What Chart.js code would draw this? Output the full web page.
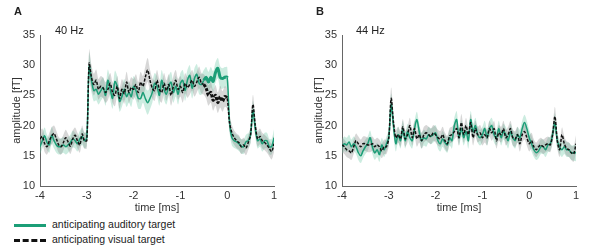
<!DOCTYPE html>
<html lang="en">
<head>
    <meta charset="UTF-8">
    <title>40 Hz / 44 Hz amplitude</title>
    <script src="https://cdn.jsdelivr.net/npm/chart.js"></script>
    <style>
        body { margin: 0; background: #fff; font-family: 'Liberation Sans', Arial, sans-serif; }
        #wrap { position: relative; width: 605px; height: 249px; }
        .panel { position: absolute; top: 0; width: 300px; height: 215px; }
        .tag { position: absolute; font-weight: bold; font-size: 11px; color: #222; }
        .freq { position: absolute; font-size: 11px; color: #222; }
        .leg { position: absolute; left: 14px; font-size: 10.5px; color: #222; }
        .leg span { display: inline-block; width: 32px; vertical-align: middle; margin-right: 6px; }
    </style>
</head>
<body>
<div id="wrap">
    <div class="panel" style="left:0"><canvas id="chartA"></canvas></div>
    <div class="panel" style="left:302px"><canvas id="chartB"></canvas></div>
    <div class="tag" style="left:14px; top:5px">A</div>
    <div class="tag" style="left:316px; top:5px">B</div>
    <div class="freq" style="left:55px; top:24px">40 Hz</div>
    <div class="freq" style="left:356px; top:24px">44 Hz</div>
    <div class="leg" style="top:218px"><span style="border-top:3px solid #1b9e77"></span>anticipating auditory target</div>
    <div class="leg" style="top:233px"><span style="border-top:3px dashed #111"></span>anticipating visual target</div>
</div>

<script>
    // sample times, -4 .. 1 in steps of 0.05
    const times = [];
    for (let i = 0; i <= 100; i++) times.push(+(-4 + i * 0.05).toFixed(2));

    const xTicks = [-4, -3, -2, -1, 0, 1];
    const yTicks = [10, 15, 20, 25, 30, 35];

    // panel A, 40 Hz
    const visualA = [
        17.8,18.2,17.0,16.5,17.5,18.3,18.7,17.8,16.8,16.5,17.2,18.0,17.3,16.6,17.8,18.4,17.5,16.8,18.6,17.5,17.5,
        30.3,28.0,26.8,27.5,26.0,26.5,26.2,25.5,26.0,27.0,25.5,25.0,26.5,24.5,26.0,25.3,27.2,25.5,26.3,26.0,
        26.8,25.5,27.2,26.5,28.0,29.2,27.5,26.2,25.8,27.5,26.0,25.5,27.0,25.8,26.8,25.0,26.5,27.5,26.0,26.5,
        25.5,27.0,26.3,26.8,27.5,26.5,27.2,28.0,27.0,26.8,26.2,25.0,25.5,24.2,25.0,23.8,24.8,24.0,24.8,24.5,
        20.5,18.8,18.0,17.5,17.2,16.5,16.8,16.3,17.2,18.5,23.5,20.0,17.8,18.2,17.5,17.2,16.8,16.2,15.7,17.0
    ];
    const auditoryA = [
        16.5,17.5,18.3,17.2,16.8,18.4,17.5,16.8,16.5,16.6,16.8,16.5,16.8,17.2,17.8,17.5,17.0,17.8,18.2,17.5,18.0,
        29.8,27.5,25.8,26.0,25.2,25.8,26.3,25.0,27.5,26.0,24.5,27.3,26.5,24.0,24.8,26.0,24.8,25.5,24.8,26.5,
        25.8,24.5,24.5,25.5,24.5,23.8,24.5,25.5,27.0,26.5,25.0,27.5,26.0,25.2,26.5,27.2,25.5,26.5,25.2,27.0,
        27.5,25.8,27.5,28.3,26.2,27.8,28.5,27.0,26.8,27.5,28.0,27.2,28.0,27.3,28.8,29.5,28.0,27.8,28.0,28.0,
        20.5,18.0,17.5,17.3,17.0,16.6,16.5,17.3,17.5,18.5,22.5,19.5,17.5,17.8,17.0,17.5,17.5,16.5,16.5,18.0
    ];
    const semA = [
        1.3,1.3,1.4,1.3,1.3,1.4,1.3,1.3,1.3,1.3,1.3,1.3,1.3,1.3,1.4,1.3,1.3,1.3,1.4,1.3,1.3,
        2.3,2.0,1.8,1.8,1.7,1.7,1.7,1.7,1.8,1.7,1.7,1.8,1.7,1.7,1.7,1.7,1.7,1.7,1.7,1.7,
        1.7,1.7,1.7,1.7,1.8,2.0,1.8,1.7,1.7,1.7,1.7,1.7,1.7,1.7,1.7,1.7,1.7,1.7,1.7,1.7,
        1.7,1.7,1.7,1.7,1.7,1.7,1.7,1.8,1.7,1.7,1.7,1.7,1.7,1.7,1.7,1.7,1.8,1.7,1.7,1.7,
        1.5,1.3,1.2,1.2,1.2,1.2,1.2,1.2,1.2,1.3,1.6,1.4,1.3,1.3,1.3,1.3,1.3,1.3,1.3,1.4
    ];

    // panel B, 44 Hz
    const visualB = [
        16.8,16.5,16.0,15.8,15.5,16.5,17.5,17.0,16.5,17.0,17.0,16.8,16.8,17.0,16.5,16.8,16.5,15.8,16.5,16.5,18.0,
        24.5,20.5,18.0,18.5,17.8,19.8,17.8,18.5,20.0,18.0,19.5,17.8,18.5,17.5,18.5,18.8,18.5,18.2,18.8,18.5,
        18.0,17.8,18.5,17.5,17.0,18.3,18.5,19.0,19.5,18.0,20.5,18.5,20.0,18.5,20.5,18.0,19.5,18.5,18.8,18.0,
        18.5,18.0,19.5,18.8,19.5,17.5,18.8,18.5,19.5,18.0,18.5,19.5,18.0,17.8,18.5,17.0,18.5,19.0,18.0,17.0,
        17.5,16.5,16.0,16.5,16.8,16.5,16.8,17.0,16.8,18.5,21.5,17.5,16.0,18.5,17.0,16.2,16.0,15.5,15.3,17.0
    ];
    const auditoryB = [
        16.5,17.0,16.8,17.3,16.5,17.0,16.5,15.5,15.0,15.8,16.5,17.0,18.0,16.5,15.5,16.0,15.2,16.8,16.0,17.0,18.0,
        23.5,20.0,17.0,18.5,17.5,19.5,17.5,19.0,18.0,17.5,19.5,21.0,19.0,17.5,18.0,17.8,18.5,18.2,18.5,18.8,
        17.5,17.0,17.8,17.2,16.8,18.0,17.5,20.0,21.0,18.0,19.5,18.0,19.0,17.5,21.0,19.0,20.0,18.5,18.0,18.5,
        19.5,18.0,19.5,20.0,18.5,18.0,19.5,18.0,19.0,18.5,17.5,19.0,18.0,17.5,18.5,18.0,19.5,20.5,19.5,18.0,
        17.0,16.0,15.5,15.8,16.5,16.5,16.0,16.8,17.0,18.5,20.5,17.5,16.5,16.0,16.5,16.0,16.0,15.5,15.5,15.5
    ];
    const semB = [
        1.2,1.2,1.2,1.2,1.2,1.2,1.2,1.2,1.2,1.2,1.2,1.2,1.2,1.2,1.2,1.2,1.2,1.2,1.2,1.2,1.3,
        1.8,1.6,1.3,1.3,1.3,1.3,1.3,1.3,1.3,1.3,1.3,1.3,1.3,1.3,1.3,1.3,1.3,1.3,1.3,1.3,
        1.3,1.3,1.3,1.3,1.3,1.3,1.3,1.3,1.4,1.3,1.4,1.3,1.3,1.3,1.4,1.3,1.3,1.3,1.3,1.3,
        1.3,1.3,1.3,1.3,1.3,1.3,1.3,1.3,1.3,1.3,1.3,1.3,1.3,1.3,1.3,1.3,1.3,1.3,1.3,1.3,
        1.3,1.2,1.2,1.2,1.2,1.2,1.2,1.2,1.2,1.3,1.6,1.3,1.2,1.2,1.2,1.2,1.2,1.2,1.3,1.4
    ];

    const GREEN = '#1b9e77';
    const GREEN_BAND = 'rgba(110, 200, 165, 0.35)';
    const GREY_BAND = 'rgba(140, 140, 140, 0.35)';
    const AXIS = '#666';

    Chart.defaults.font.family = "'Liberation Sans', Arial, sans-serif";
    Chart.defaults.font.size = 11;
    Chart.defaults.color = '#333';

    function pts(vals, off, sign) {
        return vals.map((v, i) => ({ x: times[i], y: v + sign * (off ? off[i] : 0) }));
    }

    function bandSet(vals, sem, color, sign, fill) {
        return {
            data: pts(vals, sem, sign),
            borderWidth: 0, pointRadius: 0, backgroundColor: color,
            fill: fill, order: 10, tension: 0.3
        };
    }

    function makeChart(id, visual, auditory, sem, thick) {
        const widthFor = ctx => (thick && ctx.p0.parsed.x >= -0.5 && ctx.p1.parsed.x <= 0.001) ? 3 : 1.5;
        new Chart(document.getElementById(id), {
            type: 'line',
            data: {
                datasets: [
                    bandSet(visual, sem, GREY_BAND, 1, '+1'),
                    bandSet(visual, sem, GREY_BAND, -1, false),
                    bandSet(auditory, sem, GREEN_BAND, 1, '+1'),
                    bandSet(auditory, sem, GREEN_BAND, -1, false),
                    {
                        label: 'anticipating auditory target',
                        data: pts(auditory, null, 0),
                        borderColor: GREEN, borderWidth: 1.5, pointRadius: 0,
                        order: 2, tension: 0.3,
                        segment: { borderWidth: widthFor }
                    },
                    {
                        label: 'anticipating visual target',
                        data: pts(visual, null, 0),
                        borderColor: '#111', borderWidth: 1.5, borderDash: [3, 1.5], pointRadius: 0,
                        order: 1, tension: 0.3,
                        segment: { borderWidth: widthFor }
                    }
                ]
            },
            options: {
                responsive: true, maintainAspectRatio: false, animation: false,
                layout: { padding: { top: 35, right: 26, left: 10, bottom: 0 } },
                plugins: { legend: { display: false }, tooltip: { enabled: false } },
                scales: {
                    x: {
                        type: 'linear', min: -4, max: 1,
                        afterBuildTicks: s => { s.ticks = xTicks.map(v => ({ value: v })); },
                        afterFit: s => { s.height = 29; },
                        grid: { display: false, drawTicks: false },
                        border: { color: AXIS },
                        ticks: { padding: 3, color: '#333' },
                        title: { display: true, text: 'time [ms]', padding: { top: 1, bottom: 0 }, color: '#333' }
                    },
                    y: {
                        min: 10, max: 35,
                        afterBuildTicks: s => { s.ticks = yTicks.map(v => ({ value: v })); },
                        afterFit: s => { s.width = 30; },
                        grid: { display: false, drawTicks: false },
                        border: { color: AXIS },
                        ticks: { padding: 5, color: '#333' },
                        title: { display: true, text: 'amplitude [fT]', padding: 0, color: '#333' }
                    }
                }
            }
        });
    }

    makeChart('chartA', visualA, auditoryA, semA, true);
    makeChart('chartB', visualB, auditoryB, semB, false);
</script>
</body>
</html>
